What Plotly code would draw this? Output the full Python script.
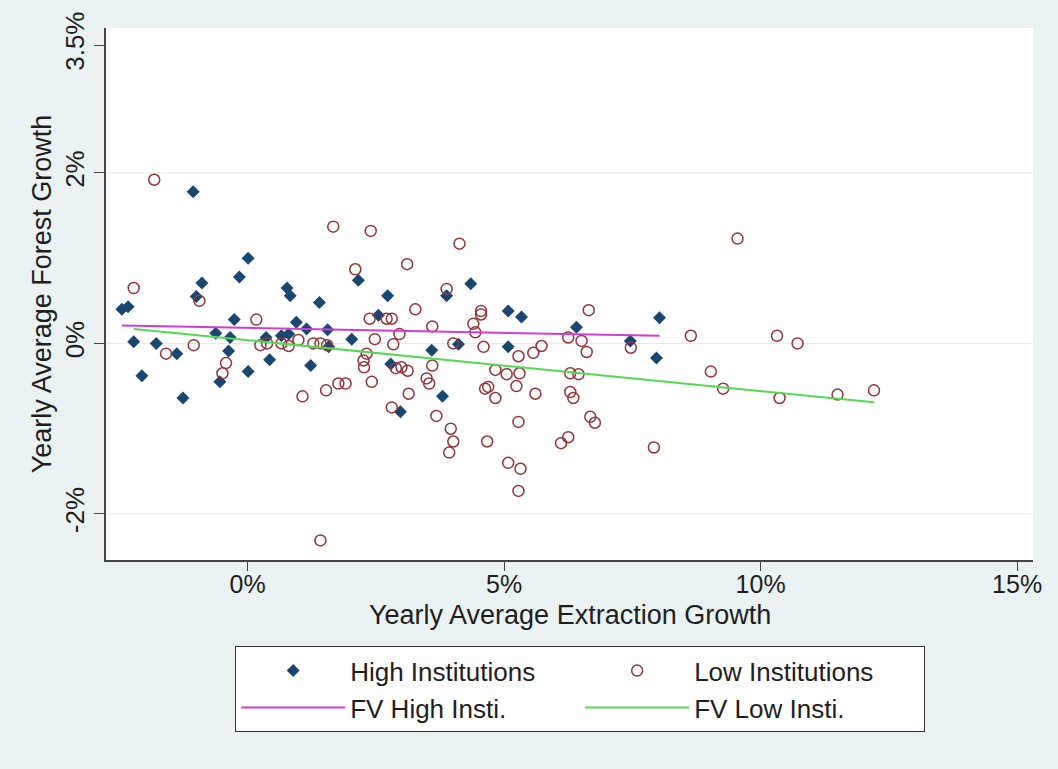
import plotly.graph_objects as go

# ---------------- data (percent) ----------------
high_x = [-2.45, -2.33, -2.22, -2.06, -1.78, -1.38, -1.26, -1.06, -1.00, -0.89,
          -0.62, -0.54, -0.37, -0.34, -0.26, -0.16, 0.01, 0.01, 0.36, 0.43,
          0.66, 0.80, 0.77, 0.83, 0.95, 1.15, 1.23, 1.40, 1.56, 1.58,
          2.03, 2.16, 2.55, 2.73, 2.79, 2.98, 3.59, 3.80, 3.88, 4.11,
          4.35, 5.08, 5.08, 5.34, 6.41, 7.46, 8.03, 7.97]
high_y = [0.40, 0.43, 0.02, -0.38, 0.00, -0.12, -0.64, 1.78, 0.55, 0.71,
          0.12, -0.45, -0.09, 0.07, 0.28, 0.78, 1.00, -0.33, 0.07, -0.19,
          0.09, 0.11, 0.65, 0.56, 0.25, 0.17, -0.26, 0.48, 0.16, -0.04,
          0.05, 0.74, 0.33, 0.56, -0.24, -0.80, -0.08, -0.62, 0.56, -0.01,
          0.70, 0.38, -0.04, 0.31, 0.19, 0.03, 0.30, -0.17]

low_x = [-1.82, -2.22, -0.94, -1.59, -1.05, -0.42, -0.49, 0.17, 0.25, 0.38,
         0.66, 0.80, 0.99, 1.28, 1.42, 1.55, 1.07, 1.53, 1.77, 1.91,
         1.67, 2.40, 4.13, 3.11, 2.10, 3.88, 3.27, 4.55, 4.55, 2.38,
         2.71, 2.81, 3.60, 4.40, 4.44, 2.96, 2.48, 2.84, 4.01, 4.60,
         2.32, 2.26, 2.27, 2.89, 3.00, 3.12, 3.60, 3.49, 3.54, 2.42,
         3.14, 4.63, 2.81, 3.68, 3.96, 4.01, 3.93, 4.67, 6.65, 6.25,
         6.51, 6.61, 7.47, 8.64, 5.28, 5.57, 5.73, 4.83, 5.05, 5.30,
         6.29, 6.45, 5.24, 4.69, 4.83, 6.29, 6.35, 5.61, 5.28, 6.68,
         6.77, 6.11, 6.25, 7.92, 5.08, 5.32, 5.28, 9.55, 10.32, 10.72,
         9.03, 9.27, 10.37, 11.50, 12.21, 1.42]
low_y = [1.92, 0.65, 0.50, -0.12, -0.02, -0.23, -0.35, 0.28, -0.02, 0.00,
         0.00, -0.03, 0.04, 0.00, 0.00, -0.02, -0.62, -0.55, -0.47, -0.47,
         1.37, 1.32, 1.17, 0.93, 0.87, 0.64, 0.40, 0.38, 0.34, 0.29,
         0.29, 0.29, 0.20, 0.23, 0.13, 0.11, 0.05, -0.01, 0.00, -0.04,
         -0.12, -0.20, -0.28, -0.29, -0.28, -0.32, -0.26, -0.41, -0.47, -0.45,
         -0.59, -0.53, -0.75, -0.85, -1.00, -1.15, -1.28, -1.15, 0.39, 0.07,
         0.03, -0.10, -0.05, 0.09, -0.15, -0.11, -0.03, -0.31, -0.36, -0.35,
         -0.35, -0.36, -0.50, -0.51, -0.64, -0.57, -0.64, -0.59, -0.92, -0.86,
         -0.93, -1.17, -1.10, -1.22, -1.40, -1.47, -1.73, 1.23, 0.09, 0.00,
         -0.33, -0.53, -0.64, -0.60, -0.55, -2.31]

# fitted values (endpoints of the fitted lines)
fv_high_x = [-2.45, 8.03]
fv_high_y = [0.21, 0.09]
fv_low_x = [-2.22, 12.21]
fv_low_y = [0.17, -0.69]

x_ticks = [0, 5, 10, 15]
x_tick_labels = ["0%", "5%", "10%", "15%"]
y_ticks = [-2, 0, 2, 3.5]
y_tick_labels = ["-2%", "0%", "2%", "3.5%"]
y_grid = [-2, 0, 2]

x_title = "Yearly Average Extraction Growth"
y_title = "Yearly Average Forest Growth"

FONT = "Liberation Sans, Arial, sans-serif"
BG = "#eaf2f3"
TXT = "#1e1e1e"

fig = go.Figure()
fig.add_trace(go.Scatter(
    x=high_x, y=high_y, mode="markers", name="High Institutions",
    marker=dict(symbol="diamond", size=10, color="#1a476f", line=dict(width=0)),
))
fig.add_trace(go.Scatter(
    x=low_x, y=low_y, mode="markers", name="Low Institutions",
    marker=dict(symbol="circle-open", size=11, color="#90353b", line=dict(width=1.5)),
))
fig.add_trace(go.Scatter(
    x=fv_high_x, y=fv_high_y, mode="lines", name="FV High Insti.",
    line=dict(color="#d23cd2", width=2),
))
fig.add_trace(go.Scatter(
    x=fv_low_x, y=fv_low_y, mode="lines", name="FV Low Insti.",
    line=dict(color="#55d855", width=2),
))

for v in y_grid:
    fig.add_hline(y=v, line=dict(color="#e3eaec", width=1), layer="below")

# x axis title placed as text just under the tick labels
fig.add_annotation(
    text=x_title, xref="paper", yref="paper", x=0.5, y=-0.103,
    xanchor="center", yanchor="middle", showarrow=False,
    font=dict(family=FONT, size=27, color=TXT),
)

fig.update_layout(
    width=1058, height=769,
    margin=dict(l=106, r=25, t=26, b=209),
    paper_bgcolor=BG, plot_bgcolor="white",
    font=dict(family=FONT, size=26, color=TXT),
    showlegend=True,
    legend=dict(
        orientation="h", x=0.5115, xanchor="center", y=-0.162, yanchor="top",
        bgcolor="white", bordercolor="#333333", borderwidth=1,
        entrywidth=225, entrywidthmode="pixels", itemwidth=104,
        font=dict(family=FONT, size=26, color=TXT),
        traceorder="normal",
    ),
    xaxis=dict(
        range=[-2.76, 15.31], tickvals=x_ticks, ticktext=x_tick_labels,
        showgrid=False, zeroline=False, showline=True, linecolor="#444444", linewidth=1.5,
        ticks="outside", ticklen=9, tickcolor="#444444",
        ticklabelstandoff=-8,
        tickfont=dict(size=25),
    ),
    yaxis=dict(
        range=[-2.54, 3.70], tickvals=y_ticks, ticktext=y_tick_labels,
        showgrid=False, zeroline=False, showline=True, linecolor="#444444", linewidth=1.5,
        ticks="outside", ticklen=10, tickcolor="#444444", tickangle=-90,
        title=dict(text=y_title, font=dict(size=27), standoff=0),
        tickfont=dict(size=26),
    ),
)

fig.write_html("out.html")
